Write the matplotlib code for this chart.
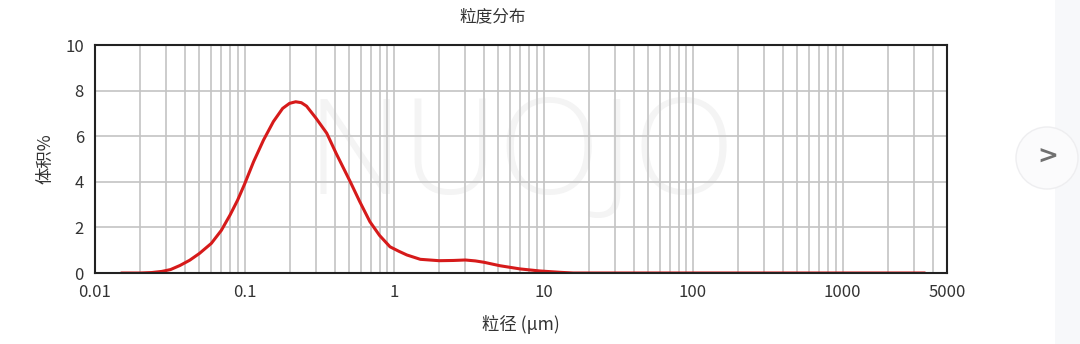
import matplotlib
matplotlib.use("Agg")
from matplotlib import pyplot as plt
from matplotlib.patches import Circle, Rectangle
from matplotlib.ticker import FixedLocator, LogLocator, NullFormatter

plt.rcParams['font.family'] = ['Noto Sans CJK SC', 'DejaVu Sans']

# particle size (um) and volume %
size_um = [0.015, 0.02, 0.024, 0.028, 0.032, 0.037, 0.043, 0.05, 0.06, 0.07, 0.08,
           0.09, 0.1, 0.115, 0.134, 0.156, 0.18, 0.2, 0.22, 0.24, 0.26, 0.3,
           0.355, 0.41, 0.51, 0.59, 0.69, 0.8, 0.94, 1.08, 1.22, 1.5, 2.0, 2.5,
           3.0, 3.5, 4.0, 5.1, 6.95, 9.4, 12.9, 15.8, 30.0, 100.0, 1000.0, 3550.0]
volume = [0.0, 0.0, 0.02, 0.07, 0.15, 0.33, 0.56, 0.86, 1.3, 1.87, 2.54,
          3.2, 3.89, 4.88, 5.83, 6.64, 7.22, 7.44, 7.51, 7.47, 7.32, 6.8,
          6.13, 5.25, 4.0, 3.13, 2.25, 1.65, 1.15, 0.95, 0.79, 0.6, 0.54, 0.55,
          0.57, 0.53, 0.47, 0.32, 0.18, 0.09, 0.03, 0.0, 0.0, 0.0, 0.0, 0.0]

x_ticks = [0.01, 0.1, 1, 10, 100, 1000, 5000]
x_tick_labels = ["0.01", "0.1", "1", "10", "100", "1000", "5000"]
y_ticks = [0, 2, 4, 6, 8, 10]

fig = plt.figure(figsize=(10.8, 3.44), dpi=100)
ax = fig.add_axes([95 / 1080, 1 - 273 / 344, 852 / 1080, 228 / 344])

# light strip + next button on the right
fig.patches.append(Rectangle((1055 / 1080, 0), 25 / 1080, 1, transform=fig.transFigure,
                             facecolor="#f7f8fa", edgecolor="none", zorder=0))
fig.patches.append(Circle((10.47, 3.44 - 1.58), 0.31, transform=fig.dpi_scale_trans,
                          facecolor="#fbfbfc", edgecolor="#eeeef0", linewidth=1, zorder=1))
fig.text(1048 / 1080, 1 - 157 / 344, ">", fontsize=18, color="#707070",
         ha="center", va="center", family="DejaVu Sans", fontweight="bold")

# watermark
ax.text(0.5, 0.5, "NUOJO", transform=ax.transAxes, fontsize=96, color="#f4f4f4",
        ha="center", va="center", family="Open Sans", fontweight="light", zorder=0)

ax.plot(size_um, volume, color="#d61a1a", linewidth=2.2, zorder=3,
        solid_capstyle="round", solid_joinstyle="round")

ax.set_xscale("log")
ax.set_xlim(0.01, 5000)
ax.set_ylim(0, 10)
ax.xaxis.set_major_locator(FixedLocator(x_ticks))
ax.set_xticklabels(x_tick_labels)
ax.xaxis.set_minor_locator(LogLocator(base=10, subs=range(2, 10), numticks=20))
ax.xaxis.set_minor_formatter(NullFormatter())
ax.set_yticks(y_ticks)

ax.grid(True, which="both", axis="x", color="#c4c4c4", linewidth=1.2, zorder=1)
ax.grid(True, which="major", axis="y", color="#c4c4c4", linewidth=1.2, zorder=1)
ax.set_axisbelow(True)
ax.tick_params(which="both", length=0, labelsize=12, colors="#333333", pad=8)
for s in ax.spines.values():
    s.set_color("#222222")
    s.set_linewidth(1.5)
    s.set_zorder(4)

ax.set_xlabel("粒径 (μm)", fontsize=12.5, color="#333333", labelpad=10)
ax.set_ylabel("体积%", fontsize=12.5, color="#333333", labelpad=8)
fig.text(493 / 1080, 1 - 17 / 344, "粒度分布", fontsize=12, color="#333333",
         ha="center", va="center")

fig.savefig("out.png", dpi=100)
